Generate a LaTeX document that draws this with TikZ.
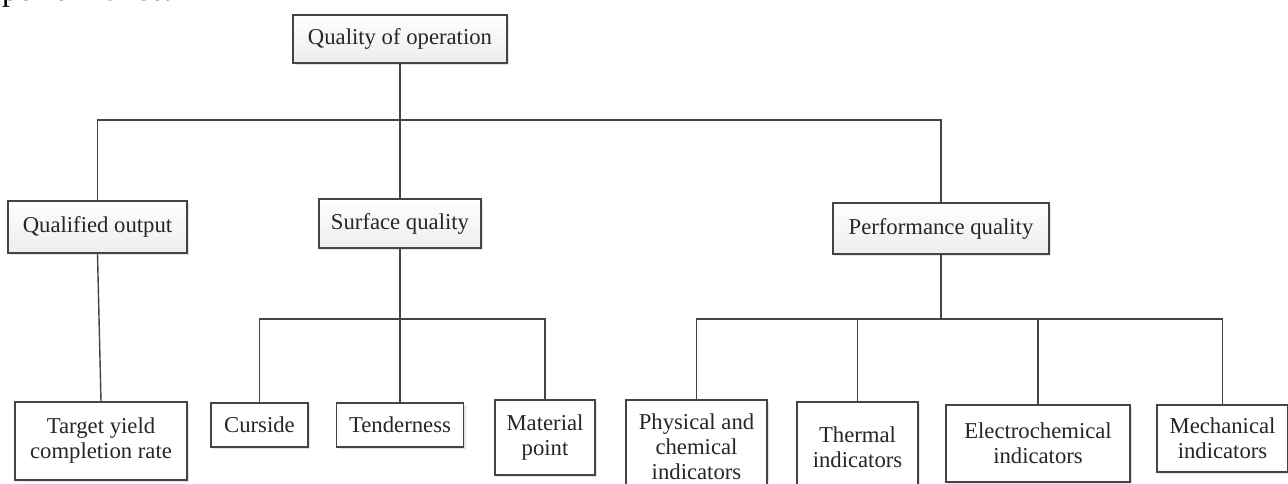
\documentclass[tikz,border=0pt]{standalone}
\usepackage{fontspec}
\setmainfont{Liberation Serif}
\usetikzlibrary{shadows}
\definecolor{linegray}{HTML}{444444}
\definecolor{textgray}{HTML}{262626}
\tikzset{
  box/.style={draw=linegray, line width=1.5pt, inner sep=2pt, align=center,
    text=textgray, font=\fontsize{22.7}{25}\selectfont,
    drop shadow={opacity=0.22, shadow xshift=2pt, shadow yshift=-2pt}},
  upbox/.style={box, top color=white, bottom color=gray!14},
  lowbox/.style={box, fill=white},
  conn/.style={draw=linegray, line width=1.4pt}
}
\begin{document}
\begin{tikzpicture}[x=1pt,y=-1pt]
\useasboundingbox (0,0) rectangle (1288,484);
\clip (0,0) rectangle (1288,484);
\fill[white] (0,0) rectangle (1288,484);
% clipped fragment of body text above the figure
\node[anchor=base west, inner sep=0, font=\fontsize{32}{34}\selectfont] (frag) at (2,0.5) {performance.};
% level 0
\node[upbox, minimum width=214pt, minimum height=48pt] (top) at (400,39) {Quality of operation};
% level 1
\node[upbox, minimum width=179pt, minimum height=52pt] (qo) at (97.5,227) {Qualified output};
\node[upbox, minimum width=162pt, minimum height=49pt] (sq) at (400,223.5) {Surface quality};
\node[upbox, minimum width=216pt, minimum height=51pt] (pq) at (941,228.5) {Performance quality};
% level 2
\node[lowbox, minimum width=172pt, minimum height=78pt] (tg) at (101,441) {Target yield\\completion rate};
\node[lowbox, minimum width=97pt, minimum height=44pt] (cu) at (259.5,425) {Curside};
\node[lowbox, minimum width=127pt, minimum height=44pt] (te) at (400,425) {Tenderness};
\node[lowbox, minimum width=100pt, minimum height=75pt] (ma) at (545,437.5) {Material\\point};
\node[lowbox, minimum width=141pt, minimum height=94pt] (ph) at (696.5,447) {Physical and\\chemical\\indicators};
\node[lowbox, minimum width=121pt, minimum height=90pt] (th) at (857.5,447) {Thermal\\indicators};
\node[lowbox, minimum width=184pt, minimum height=77pt] (el) at (1038,443.5) {Electrochemical\\indicators};
\node[lowbox, minimum width=131pt, minimum height=67pt] (me) at (1222.5,438.5) {Mechanical\\indicators};
% junction coordinates
\coordinate (j1) at (400,120);
\coordinate (j2) at (400,319);
\coordinate (j3) at (941,319);
% connectors level 0 -> 1
\draw[conn] (top.south) -- (sq.north);
\draw[conn] (qo.north) |- (pq.north |- j1) -- (pq.north);
% qualified output -> target
\draw[conn] (qo.south) -- (tg.north);
% surface quality -> children
\draw[conn] (sq.south) -- (te.north);
\draw[conn] (cu.north) |- (ma.north |- j2) -- (ma.north);
% performance quality -> children
\draw[conn] (pq.south) -- (j3);
\draw[conn] (ph.north) |- (me.north |- j3) -- (me.north);
\draw[conn] (th.north) -- (th.north |- j3);
\draw[conn] (el.north) -- (el.north |- j3);
\end{tikzpicture}
\end{document}
